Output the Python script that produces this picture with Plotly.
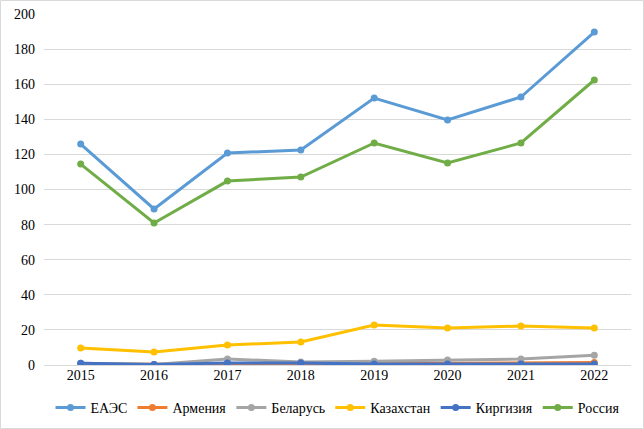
import plotly.graph_objects as go

years = ["2015", "2016", "2017", "2018", "2019", "2020", "2021", "2022"]
eaes = [125.9, 88.9, 120.8, 122.5, 152.1, 139.6, 152.7, 189.7]
armenia = [0.5, 0.3, 0.4, 0.5, 0.8, 1.2, 1.3, 1.4]
belarus = [1.0, 0.3, 3.4, 1.7, 2.2, 2.8, 3.4, 5.6]
kazakhstan = [9.7, 7.4, 11.4, 13.1, 22.8, 21.1, 22.2, 21.1]
kyrgyzstan = [1.0, 0.3, 1.2, 1.1, 0.5, 0.5, 0.5, 0.5]
russia = [114.5, 80.9, 104.8, 107.1, 126.5, 115.1, 126.5, 162.4]

series = [
    ("ЕАЭС", eaes, "#5B9BD5"),
    ("Армения", armenia, "#ED7D31"),
    ("Беларусь", belarus, "#A5A5A5"),
    ("Казахстан", kazakhstan, "#FFC000"),
    ("Киргизия", kyrgyzstan, "#4472C4"),
    ("Россия", russia, "#70AD47"),
]

FONT = "Liberation Serif"

fig = go.Figure()
for name, vals, color in series:
    fig.add_trace(go.Scatter(
        x=years, y=vals, name=name, mode="lines+markers",
        line=dict(color=color, width=3),
        marker=dict(color=color, size=7),
        hoverinfo="skip",
    ))

W, H = 644, 429
ml, mr, mt, mb = 44, 13, 14, 64
pw, ph = W - ml - mr, H - mt - mb

fig.update_layout(
    template="none",
    width=W, height=H,
    margin=dict(l=ml, r=mr, t=mt, b=mb, pad=0, autoexpand=False),
    paper_bgcolor="white", plot_bgcolor="white",
    font=dict(family=FONT, size=14, color="#000000"),
    showlegend=True,
    legend=dict(orientation="h", x=0.5, xanchor="center", y=-43 / ph, yanchor="middle",
                font=dict(family=FONT, size=14, color="#000000"), itemwidth=30, tracegroupgap=0),
    xaxis=dict(type="category", range=[-0.5, 7.5], showgrid=False, ticks="",
               showline=False, zeroline=False,
               tickfont=dict(family=FONT, size=14, color="#000000")),
    yaxis=dict(range=[0, 200], dtick=20, showgrid=True, gridcolor="#D9D9D9", gridwidth=1,
               zeroline=True, zerolinecolor="#D9D9D9", zerolinewidth=1,
               ticks="", showline=False,
               tickfont=dict(family=FONT, size=14, color="#000000"),
               ticklabelstandoff=8),
    shapes=[dict(type="rect", xref="paper", yref="paper",
                 x0=(-ml + 0.5) / pw, x1=1 + (mr - 0.5) / pw,
                 y0=(-mb + 0.5) / ph, y1=1 + (mt - 0.5) / ph,
                 line=dict(color="#D9D9D9", width=1), layer="below")],
)

fig.write_html("out.html", config={"displayModeBar": False},
               post_script="document.body.style.margin='0';document.body.style.padding='0';")
